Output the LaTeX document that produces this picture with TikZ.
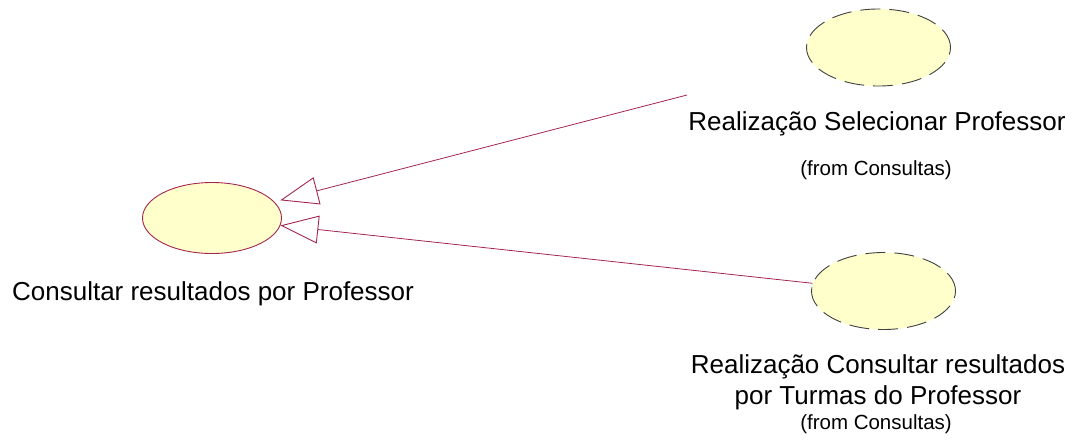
\documentclass[tikz,border=0pt]{standalone}
\usepackage{fontspec}
\setmainfont{Liberation Sans}
\usetikzlibrary{arrows.meta,positioning,shapes.geometric}
\definecolor{umlred}{HTML}{A3264F}
\definecolor{umlfill}{HTML}{FFFFCC}

\begin{document}
\begin{tikzpicture}[x=1pt, y=-1pt,
  usecase/.style={ellipse, draw=umlred, fill=umlfill, line width=0.9pt, minimum width=139pt, minimum height=71pt, inner sep=0pt},
  realuc/.style={ellipse, draw=black!75, fill=umlfill, line width=0.9pt, dash pattern=on 20pt off 9pt, minimum width=144pt, minimum height=77pt, inner sep=0pt},
  ucname/.style={font=\fontsize{26}{31}\selectfont, align=center, inner sep=0pt, anchor=base},
  ucfrom/.style={font=\fontsize{20.5}{22}\selectfont, inner sep=0pt, anchor=base},
  realize/.style={draw=umlred, line width=0.8pt, -{Triangle[open, length=38pt, width=28pt, line width=0.9pt]}}
]
  \useasboundingbox (0,0) rectangle (1075,440);

  % use cases
  \node[usecase] (consultar) at (212,218) {};
  \node[ucname] (consultarName) at (213,300) {Consultar resultados por Professor};

  \node[realuc] (selecionar) at (878.5,47.5) {};
  \node[ucname] (selecionarName) at (877,130) {Realização Selecionar Professor};
  \node[ucfrom] (selecionarFrom) at (876,175) {(from Consultas)};

  \node[realuc] (turmas) at (883.5,291) {};
  \node[ucname] (turmasName) at (878,404) {Realização Consultar resultados\\por Turmas do Professor};
  \node[ucfrom] (turmasFrom) at (876,429) {(from Consultas)};

  % realizations
  \coordinate (selecionarEnd) at (687,95);
  \draw[realize, shorten >=6pt] (selecionarEnd) -- (consultar);
  \draw[realize] (turmas) -- (consultar);
\end{tikzpicture}
\end{document}
